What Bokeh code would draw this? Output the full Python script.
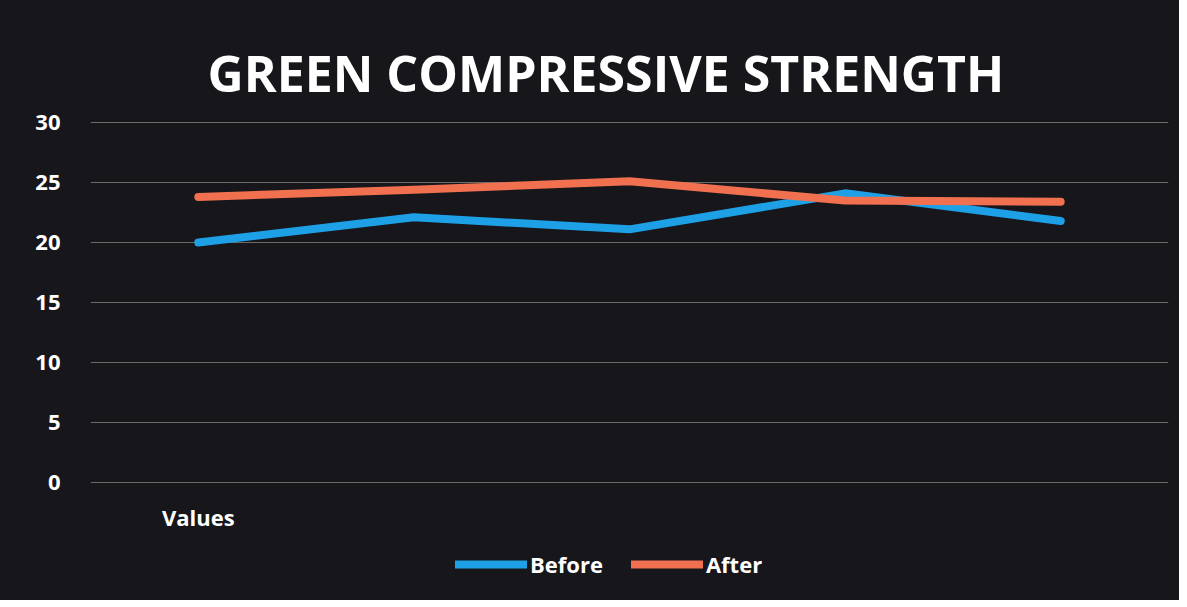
from bokeh.plotting import figure
from bokeh.models import Legend, LegendItem, FixedTicker, Title
from bokeh.core.properties import value
from bokeh.embed import file_html
from bokeh.resources import INLINE

# ---- data ----
positions = [1, 2, 3, 4, 5]
category_label = "Values"
before = [20.0, 22.1, 21.1, 24.1, 21.8]
after = [23.8, 24.4, 25.1, 23.5, 23.4]
y_ticks = [0, 5, 10, 15, 20, 25, 30]
series_names = ["Before", "After"]

BG = "#16161b"
BLUE = "#1ea0e6"
ORANGE = "#f0704f"
FONT = "Open Sans"

# frame extends below the value axis to hold category label and legend
p = figure(frame_width=1078, frame_height=480, output_backend="svg", toolbar_location=None,
           x_range=(0.5, 5.5), y_range=(-9.83, 30.17), x_axis_location=None,
           min_border_left=90, min_border_right=11, min_border_top=120, min_border_bottom=0)
p.styles = {"background-color": BG}
p.title = None
title = Title(text="GREEN COMPRESSIVE STRENGTH", align="left", text_color="white",
              text_font=FONT, text_font_size="50px", text_font_style="bold",
              standoff=28, offset=117)
p.add_layout(title, "above")

p.background_fill_color = BG
p.border_fill_color = BG
p.outline_line_color = None

r1 = p.line(positions, before, line_color=BLUE, line_width=8, line_join="round", line_cap="round")
r2 = p.line(positions, after, line_color=ORANGE, line_width=8, line_join="round", line_cap="round")

# category label under the first category, at the base of the value axis
p.text(x=[positions[0]], y=[y_ticks[0]], text=[category_label], y_offset=34,
       text_align="center", text_baseline="middle", text_color="white",
       text_font=value(FONT), text_font_size="22px", text_font_style="bold")

p.yaxis.ticker = FixedTicker(ticks=y_ticks)
p.yaxis.axis_line_color = None
p.yaxis.major_tick_line_color = None
p.yaxis.minor_tick_line_color = None
p.yaxis.major_label_text_color = "white"
p.yaxis.major_label_text_font = FONT
p.yaxis.major_label_text_font_size = "22px"
p.yaxis.major_label_text_font_style = "bold"
p.yaxis.major_label_standoff = 24

p.xgrid.grid_line_color = None
p.ygrid.grid_line_color = "#6a6a6a"
p.ygrid.grid_line_width = 1.2

legend = Legend(items=[LegendItem(label=series_names[0], renderers=[r1]),
                       LegendItem(label=series_names[1], renderers=[r2])],
                orientation="horizontal", location=(365, 21),
                background_fill_alpha=0, border_line_color=None,
                label_text_color="white", label_text_font=FONT,
                label_text_font_size="22px", label_text_font_style="bold",
                glyph_width=72, glyph_height=20, spacing=28, label_standoff=3,
                margin=0, padding=0)
p.add_layout(legend)

open("out.html", "w").write(file_html(p, INLINE))
